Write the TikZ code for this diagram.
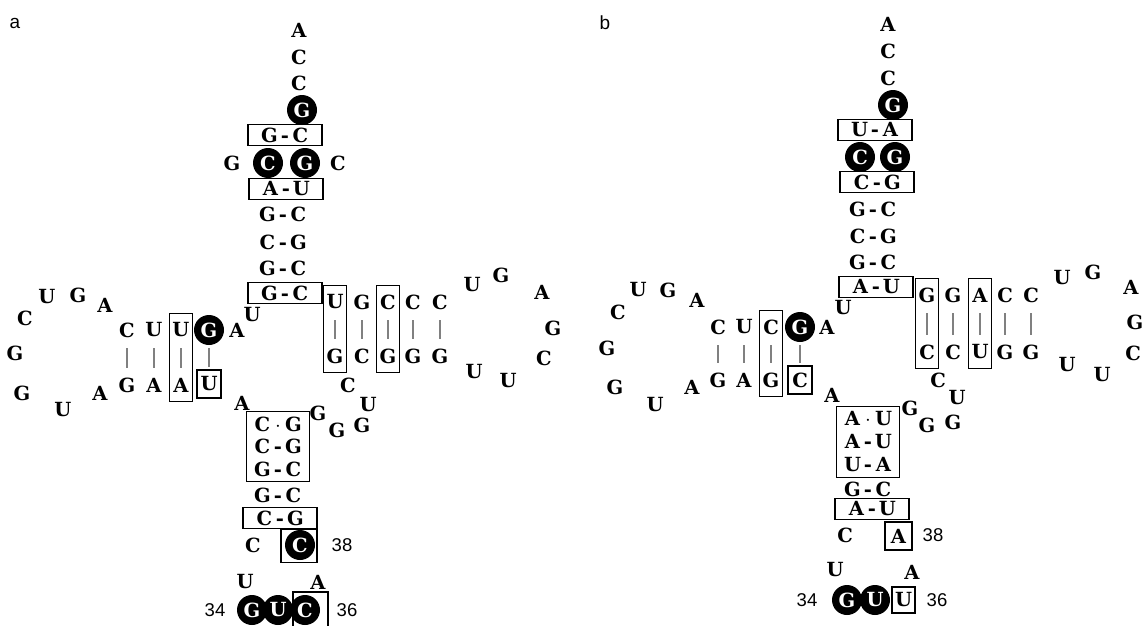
\documentclass[tikz,border=0pt]{standalone}
\usepackage{fontspec}
\usepackage{tikz}
\usetikzlibrary{fit, positioning}
\newfontfamily\labelsans{Liberation Sans}
\newfontfamily\ntserif{DejaVu Serif}
\newcommand\ntfont{\ntserif\fontsize{19.5}{22}\selectfont\bfseries}
\newcommand\bp[3][-]{\makebox[18pt]{#2}\makebox[13pt]{#1}\makebox[18pt]{#3}}
\tikzset{
    nt/.style={
        font=\ntfont,
        inner sep=0pt
    },
    ntbox/.style={
        nt,
        draw,
        line width=1.3pt,
        minimum width=24pt,
        minimum height=28pt
    },
    ring/.style={
        nt,
        circle,
        fill=black,
        text=white,
        minimum size=30pt
    },
    pairbox/.style={
        nt,
        draw,
        line width=1.3pt,
        minimum width=74pt,
        minimum height=21pt
    },
    colbox/.style={
        draw,
        line width=1.3pt,
        inner xsep=3pt,
        inner ysep=9pt
    },
    stembox/.style={
        draw,
        line width=1.3pt,
        inner xsep=7pt,
        inner ysep=5pt
    },
    bond/.style={
        draw=gray,
        line width=2pt,
        shorten <=18pt,
        shorten >=17pt
    },
    numlabel/.style={
        font=\labelsans\fontsize{18.5}{20}\selectfont,
        inner sep=0pt
    },
    panellabel/.style={
        font=\labelsans\fontsize{19}{21}\selectfont,
        inner sep=0pt
    }
}

\begin{document}
\begin{tikzpicture}[x=1pt, y=-1pt]
        \useasboundingbox (0,0) rectangle (1145,626);

        % ---------------- panel a ----------------
        \node[panellabel] (alabel) at (15,23) {a};

        % acceptor stem
        \node[nt] (aA76) at (299,30) {A};
        \node[nt] (aC75) at (299,57) {C};
        \node[nt] (aC74) at (299,83) {C};
        \node[ring] (aG73) at (302,110) {G};
        \node[pairbox] (aAcc1) at (285,135) {\bp{G}{C}};
        \node[nt] (aG2) at (232,163) {G};
        \node[ring] (aC3) at (268,163) {C};
        \node[ring] (aG70) at (305,163) {G};
        \node[nt] (aC71) at (338,163) {C};
        \node[pairbox] (aAcc3) at (286,189) {\bp{A}{U}};
        \node[nt] (aAcc4) at (283,214) {\bp{G}{C}};
        \node[nt] (aAcc5) at (283,242) {\bp{C}{G}};
        \node[nt] (aAcc6) at (283,268) {\bp{G}{C}};
        \node[pairbox] (aAcc7) at (285,293) {\bp{G}{C}};
        \node[nt] (aU8) at (252,315) {U};

        % D arm
        \node[nt] (aD1) at (127,330) {C};
        \node[nt] (aD2) at (154,330) {U};
        \node[nt] (aD3) at (181,330) {U};
        \node[ring] (aD4) at (209,330) {G};
        \node[nt] (aD5) at (237,330) {A};
        \node[nt] (aD6) at (127,385) {G};
        \node[nt] (aD7) at (154,385) {A};
        \node[nt] (aD8) at (181,385) {A};
        \node[ntbox] (aD9) at (209,384) {U};
        \node[colbox, fit=(aD3)(aD8)] (aDcol) {};
        \foreach \t/\b in {aD1/aD6, aD2/aD7, aD3/aD8, aD4/aD9}
            \draw[bond] (\t.center) -- (\b.center);
        \foreach \n/\x/\y [count=\i] in {A/105/305, G/78/295, U/47/297, C/25/318,
                G/15/353, G/22/393, U/63/410, A/100/393}
            \node[nt] (aDL\i) at (\x,\y) {\n};

        % T arm
        \foreach \n/\x [count=\i] in {U/335, G/362, C/388, C/413, C/440}
            \node[nt] (aT\i) at (\x,302) {\n};
        \foreach \n/\x [count=\i] in {G/335, C/362, G/388, G/413, G/440}
            \node[nt] (aB\i) at (\x,356) {\n};
        \foreach \i in {1,...,5}
            \draw[bond] (aT\i.center) -- (aB\i.center);
        \node[colbox, fit=(aT1)(aB1)] (aTcol1) {};
        \node[colbox, fit=(aT3)(aB3)] (aTcol3) {};
        \foreach \n/\x/\y [count=\i] in {U/472/285, G/501/275, A/542/292, G/553/328,
                C/544/358, U/508/381, U/474/372}
            \node[nt] (aTL\i) at (\x,\y) {\n};

        % variable loop
        \foreach \n/\x/\y [count=\i] in {C/348/385, U/368/405, G/362/425, G/337/430, G/318/413}
            \node[nt] (aV\i) at (\x,\y) {\n};

        % anticodon stem
        \node[nt] (aA26) at (242,403) {A};
        \node[nt] (aAc1) at (278,424) {\bp[$\cdot$]{C}{G}};
        \node[nt] (aAc2) at (278,446) {\bp{C}{G}};
        \node[nt] (aAc3) at (278,469) {\bp{G}{C}};
        \node[stembox, fit=(aAc1)(aAc3)] (aAcbox) {};
        \node[nt] (aAc4) at (278,495) {\bp{G}{C}};
        \node[pairbox] (aAc5) at (280,518) {\bp{C}{G}};
        \node[nt] (aC32) at (253,545) {C};
        \node[draw, line width=1.3pt, minimum width=36pt, minimum height=33pt] (a38box) at (299,546) {};
        \node[ring] (aC38) at (300,545) {C};
        \node[numlabel] (a38) at (342,545) {38};

        % anticodon loop
        \node[nt] (aU33) at (245,582) {U};
        \node[nt] (aA37) at (318,582) {A};
        \node[draw, line width=1.3pt, minimum width=35pt, minimum height=36pt] (a36box) at (310.5,610) {};
        \node[ring] (aG34) at (252,610) {G};
        \node[ring] (aU35) at (278,610) {U};
        \node[ring] (aC36) at (305,610) {C};
        \node[numlabel] (a34) at (215,610) {34};
        \node[numlabel] (a36) at (347,610) {36};

        % ---------------- panel b ----------------
        \node[panellabel] (blabel) at (605,23) {b};

        % acceptor stem
        \node[nt] (bA76) at (888,24) {A};
        \node[nt] (bC75) at (888,51) {C};
        \node[nt] (bC74) at (888,78) {C};
        \node[ring] (bG73) at (893,105) {G};
        \node[pairbox] (bAcc1) at (875,130) {\bp{U}{A}};
        \node[ring] (bC3) at (860,157) {C};
        \node[ring] (bG70) at (895,157) {G};
        \node[pairbox] (bAcc3) at (877,182) {\bp{C}{G}};
        \node[nt] (bAcc4) at (873,209) {\bp{G}{C}};
        \node[nt] (bAcc5) at (873,236) {\bp{C}{G}};
        \node[nt] (bAcc6) at (873,262) {\bp{G}{C}};
        \node[pairbox] (bAcc7) at (876,287) {\bp{A}{U}};
        \node[nt] (bU8) at (843,308) {U};

        % D arm
        \node[nt] (bD1) at (718,327) {C};
        \node[nt] (bD2) at (744,327) {U};
        \node[nt] (bD3) at (771,327) {C};
        \node[ring] (bD4) at (800,327) {G};
        \node[nt] (bD5) at (827,327) {A};
        \node[nt] (bD6) at (718,380) {G};
        \node[nt] (bD7) at (744,380) {A};
        \node[nt] (bD8) at (771,380) {G};
        \node[ntbox] (bD9) at (800,380) {C};
        \node[colbox, fit=(bD3)(bD8)] (bDcol) {};
        \foreach \t/\b in {bD1/bD6, bD2/bD7, bD3/bD8, bD4/bD9}
            \draw[bond] (\t.center) -- (\b.center);
        \foreach \n/\x/\y [count=\i] in {A/697/300, G/668/290, U/638/290, C/618/312,
                G/607/348, G/615/387, U/655/405, A/692/387}
            \node[nt] (bDL\i) at (\x,\y) {\n};

        % T arm
        \foreach \n/\x [count=\i] in {G/927, G/953, A/980, C/1005, C/1031}
            \node[nt] (bT\i) at (\x,295) {\n};
        \foreach \n/\x [count=\i] in {C/927, C/953, U/980, G/1005, G/1031}
            \node[nt] (bB\i) at (\x,352) {\n};
        \foreach \i in {1,...,5}
            \draw[bond] (bT\i.center) -- (bB\i.center);
        \node[colbox, fit=(bT1)(bB1)] (bTcol1) {};
        \node[colbox, fit=(bT3)(bB3)] (bTcol3) {};
        \foreach \n/\x/\y [count=\i] in {U/1062/278, G/1093/272, A/1131/287, G/1135/322,
                C/1133/353, U/1102/375, U/1067/365}
            \node[nt] (bTL\i) at (\x,\y) {\n};

        % variable loop
        \foreach \n/\x/\y [count=\i] in {C/938/380, U/957/398, G/953/422, G/927/425, G/910/408}
            \node[nt] (bV\i) at (\x,\y) {\n};

        % anticodon stem
        \node[nt] (bA26) at (832,395) {A};
        \node[nt] (bAc1) at (868,419) {\bp[$\cdot$]{A}{U}};
        \node[nt] (bAc2) at (868,442) {\bp{A}{U}};
        \node[nt] (bAc3) at (868,465) {\bp{U}{A}};
        \node[stembox, fit=(bAc1)(bAc3)] (bAcbox) {};
        \node[nt] (bAc4) at (868,489) {\bp{G}{C}};
        \node[pairbox] (bAc5) at (872,509) {\bp{A}{U}};
        \node[nt] (bC32) at (845,535) {C};
        \node[ntbox, minimum width=27pt] (bA38) at (898.5,536) {A};
        \node[numlabel] (b38) at (933,535) {38};

        % anticodon loop
        \node[nt] (bU33) at (835,570) {U};
        \node[nt] (bA37) at (912,572) {A};
        \node[ntbox, minimum width=23pt, minimum height=26pt] (bU36) at (903.5,600) {U};
        \node[ring] (bG34) at (847,600) {G};
        \node[ring] (bU35) at (875,600) {U};
        \node[numlabel] (b34) at (807,600) {34};
        \node[numlabel] (b36) at (937,600) {36};
    \end{tikzpicture}
\end{document}
